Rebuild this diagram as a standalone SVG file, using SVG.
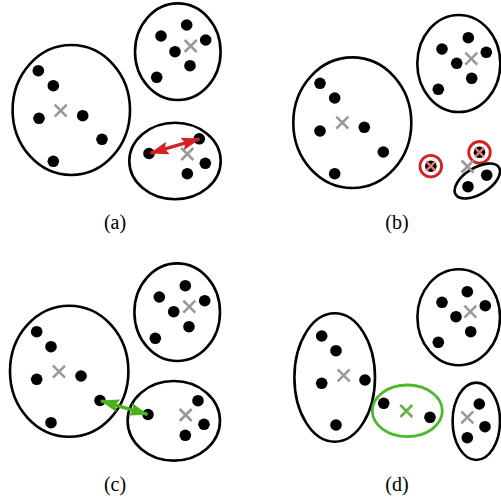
<svg xmlns="http://www.w3.org/2000/svg" width="501" height="497" viewBox="0 0 501 497">
<style>
.cl{fill:none;stroke:#000;stroke-width:2.6}
.gc{fill:none;stroke:#4cb82a;stroke-width:2.8}
.d{fill:#000}
.x{stroke:#999;stroke-width:2.6;fill:none}
.gx{stroke:#6ab04c;stroke-width:2.6;fill:none}
.px{stroke:#e07a7a;stroke-width:2.4;fill:none}
.rc{fill:none;stroke:#d42121;stroke-width:2.8}
.lbl{font-family:"Liberation Serif","Times New Roman",serif;font-size:20px;fill:#000;text-anchor:middle}
</style>
<defs>
<path id="xm" d="M-6,-6 L6,6 M-6,6 L6,-6"/>
<marker id="ar" markerUnits="userSpaceOnUse" markerWidth="19" markerHeight="13" refX="18" refY="6.5" orient="auto-start-reverse"><path d="M0,0 L19,6.5 L0,13 L3,6.5 Z" fill="#d42121"/></marker>
<marker id="ag" markerUnits="userSpaceOnUse" markerWidth="19" markerHeight="13" refX="18" refY="6.5" orient="auto-start-reverse"><path d="M0,0 L19,6.5 L0,13 L3,6.5 Z" fill="#4cb020"/></marker>
</defs>

<!-- Panel (a) -->
<g id="a-c1">
<ellipse class="cl" cx="71.3" cy="110" rx="58.7" ry="65"/>
<circle class="d" cx="38.3" cy="70.7" r="5.8"/><circle class="d" cx="53.3" cy="85.7" r="5.8"/><circle class="d" cx="39" cy="118.3" r="5.8"/><circle class="d" cx="82.7" cy="115.7" r="5.8"/><circle class="d" cx="102" cy="139.3" r="5.8"/><circle class="d" cx="53.3" cy="161.3" r="5.8"/>
<use href="#xm" class="x" x="60.7" y="110.7"/>
</g>
<g id="a-c2">
<ellipse class="cl" cx="177.8" cy="51.7" rx="42.8" ry="48.3"/>
<circle class="d" cx="161" cy="36" r="5.8"/><circle class="d" cx="186.7" cy="25" r="5.8"/><circle class="d" cx="205.7" cy="40" r="5.8"/><circle class="d" cx="175" cy="51.7" r="5.8"/><circle class="d" cx="190" cy="65.7" r="5.8"/><circle class="d" cx="156.7" cy="77.3" r="5.8"/>
<use href="#xm" class="x" x="190.7" y="46"/>
</g>
<g id="a-c3">
<ellipse class="cl" cx="175" cy="161" rx="45.7" ry="38.3"/>
<circle class="d" cx="149" cy="153.5" r="5.8"/><circle class="d" cx="199.3" cy="138.8" r="5.8"/><circle class="d" cx="205.3" cy="163.3" r="5.8"/><circle class="d" cx="187.3" cy="173.7" r="5.8"/>
<use href="#xm" class="x" x="187.3" y="154"/>
</g>
<text class="lbl" x="115" y="229">(a)</text>

<!-- Panel (b) -->
<g id="b-c1">
<ellipse class="cl" cx="352.3" cy="122.7" rx="59" ry="65.3"/>
<circle class="d" cx="320" cy="83.3" r="5.8"/><circle class="d" cx="334.7" cy="98" r="5.8"/><circle class="d" cx="320" cy="131" r="5.8"/><circle class="d" cx="364.3" cy="127.3" r="5.8"/><circle class="d" cx="383.3" cy="152" r="5.8"/><circle class="d" cx="334.7" cy="173.7" r="5.8"/>
<use href="#xm" class="x" x="342.3" y="122.7"/>
</g>
<g id="b-c2">
<ellipse class="cl" cx="458.8" cy="63.5" rx="41.5" ry="48.5"/>
<circle class="d" cx="442" cy="49" r="5.8"/><circle class="d" cx="468.3" cy="37.7" r="5.8"/><circle class="d" cx="486.3" cy="52.3" r="5.8"/><circle class="d" cx="456.7" cy="63.3" r="5.8"/><circle class="d" cx="471.7" cy="78.3" r="5.8"/><circle class="d" cx="438.3" cy="89.3" r="5.8"/>
<use href="#xm" class="x" x="471.3" y="58.7"/>
</g>
<g id="b-o1">
<circle class="rc" cx="430.8" cy="166.2" r="10.8"/>
<circle class="d" cx="430.8" cy="166.2" r="5.8"/>
<path class="px" d="M426.3,161.7 L435.3,170.7 M426.3,170.7 L435.3,161.7"/>
</g>
<g id="b-o2">
<circle class="rc" cx="479.5" cy="152.3" r="10.8"/>
<circle class="d" cx="479.5" cy="152.3" r="5.8"/>
<path class="px" d="M475,147.8 L484,156.8 M475,156.8 L484,147.8"/>
</g>
<g id="b-c3">
<ellipse class="cl" cx="477.3" cy="181" rx="25.5" ry="13" transform="rotate(-32 477.3 181)"/>
<circle class="d" cx="468" cy="186.7" r="5.8"/><circle class="d" cx="486.7" cy="175.2" r="5.8"/>
<use href="#xm" class="x" x="467.5" y="166.5"/>
</g>
<text class="lbl" x="397" y="229">(b)</text>

<!-- Panel (c) -->
<g id="c-c1">
<ellipse class="cl" cx="69.2" cy="371.2" rx="59.2" ry="65.5"/>
<circle class="d" cx="36.7" cy="331.7" r="5.8"/><circle class="d" cx="51" cy="346.7" r="5.8"/><circle class="d" cx="36.7" cy="379.3" r="5.8"/><circle class="d" cx="81" cy="376" r="5.8"/><circle class="d" cx="100" cy="400.5" r="5.8"/><circle class="d" cx="51" cy="422.7" r="5.8"/>
<use href="#xm" class="x" x="59" y="371.7"/>
</g>
<g id="c-c2">
<ellipse class="cl" cx="177.2" cy="312.2" rx="42.8" ry="48.8"/>
<circle class="d" cx="159.3" cy="297" r="5.8"/><circle class="d" cx="185.3" cy="285.7" r="5.8"/><circle class="d" cx="204.7" cy="300.7" r="5.8"/><circle class="d" cx="173.7" cy="311.7" r="5.8"/><circle class="d" cx="189" cy="326.7" r="5.8"/><circle class="d" cx="155.3" cy="338.3" r="5.8"/>
<use href="#xm" class="x" x="189.3" y="306.7"/>
</g>
<g id="c-c3">
<ellipse class="cl" cx="173.8" cy="420.8" rx="46.2" ry="39.8"/>
<circle class="d" cx="148" cy="414.5" r="5.8"/><circle class="d" cx="198" cy="400.7" r="5.8"/><circle class="d" cx="204" cy="424.3" r="5.8"/><circle class="d" cx="185.3" cy="435.3" r="5.8"/>
<use href="#xm" class="x" x="185.7" y="415"/>
</g>
<text class="lbl" x="115" y="491">(c)</text>

<!-- Panel (d) -->
<g id="d-c1">
<ellipse class="cl" cx="334.7" cy="377.5" rx="40.3" ry="64.2"/>
<circle class="d" cx="321.7" cy="336" r="5.8"/><circle class="d" cx="336" cy="350.7" r="5.8"/><circle class="d" cx="321.7" cy="383.3" r="5.8"/><circle class="d" cx="365" cy="380" r="5.8"/><circle class="d" cx="336" cy="425" r="5.8"/>
<use href="#xm" class="x" x="343.7" y="375.3"/>
</g>
<g id="d-c2">
<ellipse class="cl" cx="458.7" cy="317.2" rx="41.3" ry="48"/>
<circle class="d" cx="442" cy="302.3" r="5.8"/><circle class="d" cx="467.3" cy="291.7" r="5.8"/><circle class="d" cx="485.3" cy="305.7" r="5.8"/><circle class="d" cx="456" cy="316.7" r="5.8"/><circle class="d" cx="470.7" cy="331.7" r="5.8"/><circle class="d" cx="438.3" cy="342.3" r="5.8"/>
<use href="#xm" class="x" x="470.3" y="311.7"/>
</g>
<g id="d-new">
<ellipse class="gc" cx="407.3" cy="410.8" rx="35" ry="25.8"/>
<circle class="d" cx="383.7" cy="403.3" r="5.8"/><circle class="d" cx="430" cy="417.3" r="5.8"/>
<use href="#xm" class="gx" x="406.3" y="411"/>
</g>
<g id="d-c3">
<ellipse class="cl" cx="476.3" cy="421.3" rx="23.7" ry="38.7"/>
<circle class="d" cx="479.3" cy="404" r="5.8"/><circle class="d" cx="485" cy="426.7" r="5.8"/><circle class="d" cx="467.3" cy="437.7" r="5.8"/>
<use href="#xm" class="x" x="467.3" y="417.3"/>
</g>
<text class="lbl" x="397" y="491">(d)</text>

<g id="connectors">
<line x1="150.5" y1="153.1" x2="199.5" y2="138.8" stroke="#d42121" stroke-width="3.4" marker-start="url(#ar)" marker-end="url(#ar)"/>
<line x1="101" y1="400.8" x2="147.5" y2="414.4" stroke="#4cb020" stroke-width="3.4" marker-start="url(#ag)" marker-end="url(#ag)"/>
</g>
</svg>
